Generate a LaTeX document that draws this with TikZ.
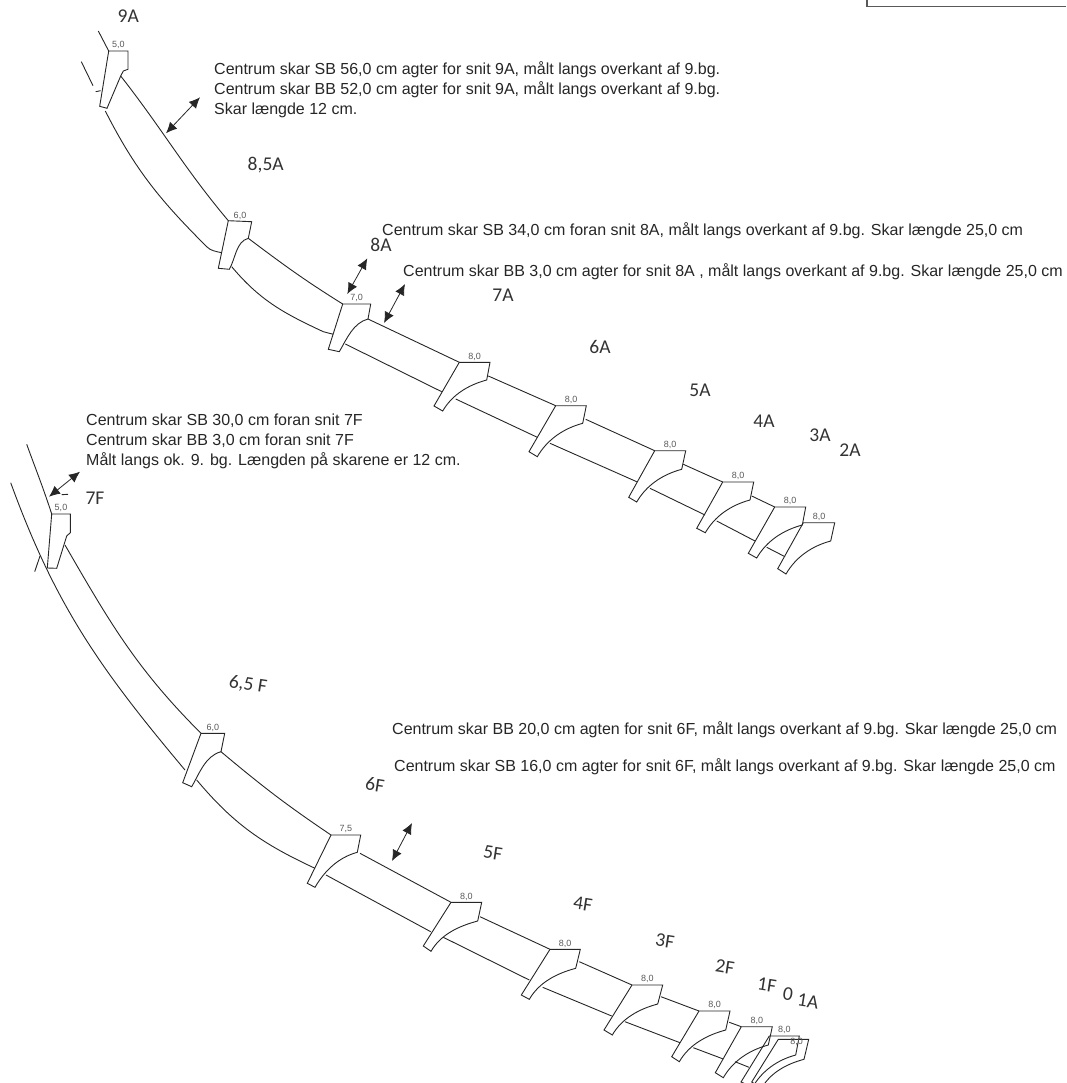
\documentclass[tikz,border=0pt]{standalone}
\usepackage{fontspec}
\setmainfont{Liberation Sans}
\newfontfamily\carlito{Carlito}
\usetikzlibrary{arrows.meta}
\tikzset{
  rib/.style={line width=0.9pt,color=black!85},
  note/.style={anchor=west,align=left,inner sep=0pt,color=black!85,font=\fontsize{16}{20}\selectfont},
  bay/.style={inner sep=0pt,color=black!80,font=\carlito\fontsize{19.5}{22}\selectfont},
  bayf/.style={bay,rotate=-9},
  size/.style={above=1.5pt,inner sep=0pt,color=black!65,font=\fontsize{9}{10}\selectfont},
  gap/.style={{Latex[length=11pt,width=10pt]}-{Latex[length=11pt,width=10pt]},line width=0.8pt,color=black!85}
}
\newcommand{\ribframe}[7]{
  \coordinate (#1a) at (#2);
  \coordinate (#1b) at (#3);
  \coordinate (#1c) at (#4);
  \coordinate (#1d) at (#5);
  \coordinate (#1e) at (#6);
  \draw[rib] (#1a) -- node[size] (#1s) {#7} (#1b) -- (#1c) to[out=195,in=60,looseness=0.9] (#1d) -- (#1e) -- cycle;
}
\begin{document}
\begin{tikzpicture}[x=1pt,y=-1pt]
      \clip (0,0) rectangle (1066,1083);
      \draw[line width=1.4pt,color=black!65] (867,0) -- (867,6.5) -- (1066,6.5);
      % aft frames
      \coordinate (f9Aa) at (108.7,51);
      \draw[rib] (f9Aa) -- node[size] (f9As) {5,0} (128,51) -- (128,69.3) -- (123.3,71) -- (120.7,76) -- (107,108.3) -- (99.7,106.3) -- cycle;
      \ribframe{f85A}{228.3,220.7}{251.7,221.7}{248.3,238.3}{229.3,269.3}{218.3,268.3}{6,0}
      \ribframe{f8A}{342.7,304}{370.7,304}{368,319}{339.3,351.7}{328.3,349.3}{7,0}
      \ribframe{f7A}{459.3,362.3}{490,362.3}{486.7,380}{442.7,411}{434,406}{8,0}
      \ribframe{f6A}{555.7,405.7}{586.3,405.7}{582.7,423.3}{537.3,456.7}{529,451.7}{8,0}
      \ribframe{f5A}{654.7,450.7}{685.7,450.7}{681.7,469.3}{636.7,502}{628.7,497.3}{8,0}
      \ribframe{f4A}{722.7,482}{753.7,482}{750,500}{705.3,532.7}{696.7,528.3}{8,0}
      \ribframe{f3A}{774.7,507}{805.7,507}{802.3,525}{756.7,558}{748.3,553.3}{8,0}
      \ribframe{f2A}{803.3,522.7}{834.7,522.7}{830.7,541}{786,574}{777.7,568.7}{8,0}
      \begin{scope}[rib]
        \draw (98.3,31) -- (f9Aa);
        \draw (81.3,61.7) -- (93,85.7);
        \draw (95.7,91.7) -- (100.7,90.7);
        \draw (120.7,76) to[out=-52,in=130] (f85Aa);
        \draw (105.3,111) to[out=-63,in=135] (206.7,246.7) to[out=-45,in=165] (221.3,252.7);
        \draw (f85Ac) to[out=-37,in=148] (f8Aa);
        \draw (231.7,266.7) to[out=-50,in=155] (323.3,331.7) -- (333.3,334.3);
        \draw (f8Ac) -- (f7Aa);
        \draw (345.3,344) -- (441.7,391.7);
        \draw (488.3,376) -- (f6Aa);
        \draw (455.7,399) -- (537.3,437.3);
        \draw (585.7,419.3) -- (f5Aa);
        \draw (550,443.3) -- (636.7,481.7);
        \draw (683.3,464.3) -- (f4Aa);
        \draw (650,488.3) -- (705,515);
        \draw (751.7,496) -- (f3Aa);
        \draw (716.7,521) -- (755,541);
        \draw (766.7,547.3) -- (785,556.7);
      \end{scope}
      % fore frames
      \coordinate (f7Fa) at (51.7,514);
      \draw[rib] (f7Fa) -- node[size] (f7Fs) {5,0} (70.3,514) -- (70.3,532.7) -- (66.7,536) -- (56.7,568.3) -- (47.3,568) -- cycle;
      \ribframe{f65F}{201,733.3}{224.7,733.3}{221,751.7}{191.7,786.7}{182.7,782.7}{6,0}
      \ribframe{f6F}{331,835}{360.7,835}{357.3,852.3}{315,887.3}{307.3,883.3}{7,5}
      \ribframe{f5F}{451,902.3}{481.7,902.3}{477.7,921}{431,951.3}{423.3,946}{8,0}
      \ribframe{f4F}{550,949.3}{580.3,949.3}{575.7,968.3}{529.3,999.3}{521.3,995}{8,0}
      \ribframe{f3F}{632,985}{662.7,985}{657.7,1004}{612.3,1035}{604,1030}{8,0}
      \ribframe{f2F}{699,1011}{730,1011}{725.7,1030}{679.3,1061.7}{671.7,1056.7}{8,0}
      \ribframe{f1F}{741.3,1026.7}{772.3,1026.7}{768.3,1045}{723.3,1077.7}{715.3,1072.7}{8,0}
      \ribframe{f0}{769.3,1036}{799.3,1036}{795.7,1055}{752.7,1087}{741,1082}{8,0}
      \ribframe{f1A}{778.3,1039.3}{808.7,1039.3}{804,1059.3}{761.7,1088}{751.7,1082}{}
      \node[size,anchor=center] (f1Ax) at (796.7,1043.5) {8,0};
      \begin{scope}[rib]
        \draw (26.7,444.3) to[out=-70,in=108] (f7Fa);
        \draw (10.7,482.7) to[out=-70,in=130] (185,770);
        \draw (34.7,571.7) -- (40,556);
        \draw (65,545) to[out=-60,in=135] (f65Fa);
        \draw (196.7,780) to[out=-50,in=155] (315,868.3);
        \draw (f65Fc) to[out=-40,in=146] (f6Fa);
        \draw (360,853.3) -- (f5Fa);
        \draw (326,875) -- (430.7,931.7);
        \draw (480,916.7) -- (f4Fa);
        \draw (443.3,937.3) -- (529.3,980);
        \draw (579.3,961.7) -- (f3Fa);
        \draw (542.7,987.3) -- (611.7,1016);
        \draw (661,996.7) -- (f2Fa);
        \draw (625,1021.7) -- (680,1042.7);
        \draw (729.3,1022.3) -- (f1Fa);
        \draw (693.3,1047.7) -- (723.3,1059);
        \draw (735,1061.7) -- (749,1067.3);
      \end{scope}
      % measuring arrows
      \coordinate (g9a) at (166,133.3);
      \coordinate (g9b) at (200,97.3);
      \coordinate (g8a) at (347.3,294);
      \coordinate (g8b) at (367.3,258.3);
      \coordinate (g8c) at (384,323);
      \coordinate (g8d) at (405,284);
      \coordinate (g7a) at (49,496.7);
      \coordinate (g7b) at (80,471.7);
      \coordinate (g6a) at (392,861);
      \coordinate (g6b) at (412,823);
      \draw[gap] (g9a) -- (g9b);
      \draw[gap] (g8a) -- (g8b);
      \draw[gap] (g8c) -- (g8d);
      \draw[gap] (g7a) -- (g7b);
      \draw[gap] (g6a) -- (g6b);
      \draw[rib] (61.7,494.7) -- (68,494.3);
      % bay names
      \node[bay] (n9A) at (128.3,16) {9A};
      \node[bay] (n85A) at (265.7,165) {8,5A};
      \node[bay] (n8A) at (381,245) {8A};
      \node[bay] (n7A) at (503,295) {7A};
      \node[bay] (n6A) at (600,347) {6A};
      \node[bay] (n5A) at (700,390) {5A};
      \node[bay] (n4A) at (764,421) {4A};
      \node[bay] (n3A) at (820,435) {3A};
      \node[bay] (n2A) at (850,450) {2A};
      \node[bay] (n7F) at (95,498) {7F};
      \node[bayf] (n65F) at (248,685) {6,5 F};
      \node[bayf] (n6F) at (375,785) {6F};
      \node[bayf] (n5F) at (493,853) {5F};
      \node[bayf] (n4F) at (583,904) {4F};
      \node[bayf] (n3F) at (665,941) {3F};
      \node[bayf] (n2F) at (725,967) {2F};
      \node[bayf] (n1F) at (767,985) {1F};
      \node[bayf] (n0) at (788,994) {0};
      \node[bayf] (n1A) at (808,1001) {1A};
      % notes
      \node[note] (t9A) at (214,89.5) {Centrum skar SB 56,0 cm agter for snit 9A, målt langs overkant af 9.bg.\\Centrum skar BB 52,0 cm agter for snit 9A, målt langs overkant af 9.bg.\\Skar længde 12 cm.};
      \node[note] (t8SB) at (382,230.5) {Centrum skar SB 34,0 cm foran snit 8A, målt langs overkant af 9.bg. Skar længde 25,0 cm};
      \node[note] (t8BB) at (403,271.5) {Centrum skar BB 3,0 cm agter for snit 8A , målt langs overkant af 9.bg. Skar længde 25,0 cm};
      \node[note] (t7F) at (86,441.5) {Centrum skar SB 30,0 cm foran snit 7F\\Centrum skar BB 3,0 cm foran snit 7F\\Målt langs ok. 9. bg. Længden på skarene er 12 cm.};
      \node[note] (t6BB) at (392,729.5) {Centrum skar BB 20,0 cm agten for snit 6F, målt langs overkant af 9.bg. Skar længde 25,0 cm};
      \node[note] (t6SB) at (394,766.5) {Centrum skar SB 16,0 cm agter for snit 6F, målt langs overkant af 9.bg. Skar længde 25,0 cm};
    \end{tikzpicture}
\end{document}
